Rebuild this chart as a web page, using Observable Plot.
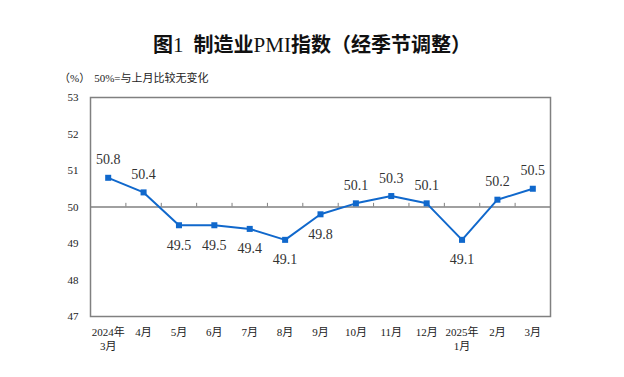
<!DOCTYPE html>
<html>
<head>
<meta charset="utf-8">
<script src="https://cdn.jsdelivr.net/npm/d3@7"></script>
<script src="https://cdn.jsdelivr.net/npm/@observablehq/plot@0.6"></script>
<style>
  body { margin: 0; background: #fff; width: 624px; }
  .title { padding-top: 32px; height: 38px; line-height: 26px; font-size: 20px; text-align: center;
           font-family: "Liberation Serif", "Noto Sans CJK SC", sans-serif; font-weight: bold; color: #111; }
  .title .n { font-weight: normal; font-size: 21px; }
  .sub { height: 16px; line-height: 16px; font-size: 11px; padding-left: 59px; color: #222;
         font-family: "Liberation Serif", "Noto Sans CJK SC", serif; }
  .sub span { margin-left: 4px; }
  svg text { font-family: "Liberation Serif", "Noto Sans CJK SC", serif; }
</style>
</head>
<body>
<div class="title">图<span class="n">1</span>&nbsp; 制造业<span class="n">PMI</span>指数（经季节调整）</div>
<div class="sub">（%）<span>50%=与上月比较无变化</span></div>
<div id="chart"></div>
<script>
const months = ["2024年\n3月", "4月", "5月", "6月", "7月", "8月", "9月", "10月", "11月", "12月", "2025年\n1月", "2月", "3月"];
const pmi = [50.8, 50.4, 49.5, 49.5, 49.4, 49.1, 49.8, 50.1, 50.3, 50.1, 49.1, 50.2, 50.5];
const yTicks = [47, 48, 49, 50, 51, 52, 53];
const baseline = 50;

const data = pmi.map((v, i) => ({i, v, label: v.toFixed(1)}));
const boundaries = d3.range(months.length - 1).map(i => i + 0.5);
const blue = "#1068cc";
const gray = "#808080";
const serif = "'Liberation Serif', 'Noto Sans CJK SC', serif";

const chart = Plot.plot({
  width: 624,
  height: 291,
  marginLeft: 90,
  marginRight: 74,
  marginTop: 11,
  marginBottom: 61,
  style: {fontFamily: serif, fontSize: "11px", color: "#222", background: "#fff"},
  x: {type: "linear", domain: [-0.5, months.length - 0.5]},
  y: {domain: [47, 53]},
  marks: [
    Plot.axisY({ticks: yTicks, tickFormat: d => String(d), tickSize: 0, tickPadding: 12, label: null, fontSize: 11, fontFamily: serif}),
    Plot.axisX({ticks: d3.range(months.length), tickFormat: i => months[i], tickSize: 0, tickPadding: 10, label: null, fontSize: 11, lineHeight: 1.25, fontFamily: serif}),
    Plot.ruleY([baseline], {stroke: gray, strokeWidth: 1.5}),
    Plot.ruleX(boundaries, {x: d => d, y1: baseline, y2: baseline + 0.1, stroke: gray, strokeWidth: 1}),
    Plot.frame({stroke: gray, strokeWidth: 1.5}),
    Plot.line(data, {x: "i", y: "v", stroke: blue, strokeWidth: 2}),
    Plot.dot(data, {x: "i", y: "v", symbol: "square", r: 3.4, fill: blue, stroke: "none"}),
    Plot.text(data.filter(d => d.v > baseline), {x: "i", y: "v", text: "label", dy: -18, fontSize: 14, fill: "#333", fontFamily: serif}),
    Plot.text(data.filter(d => d.v <= baseline), {x: "i", y: "v", text: "label", dy: 20, fontSize: 14, fill: "#333", fontFamily: serif})
  ]
});
document.getElementById("chart").appendChild(chart);
</script>
</body>
</html>
